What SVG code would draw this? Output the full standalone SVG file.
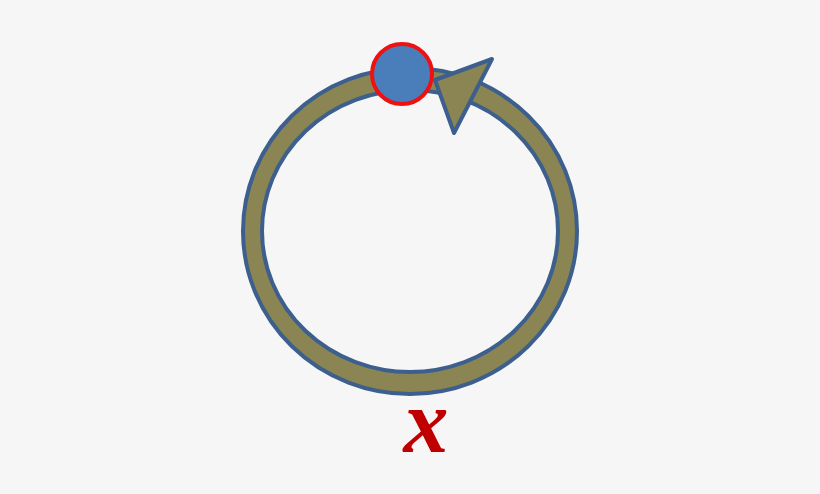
<svg xmlns="http://www.w3.org/2000/svg" width="820" height="494" viewBox="0 0 820 494">
<style>
.band{fill:#8B8553;stroke:#3C5F8E;stroke-width:4;stroke-linejoin:round}
</style>
<rect width="820" height="494" fill="#F6F6F6"/>
<g id="ring">
<path class="band" fill-rule="evenodd" d="M243,231 a167,163 0 1,0 334,0 a167,163 0 1,0 -334,0 Z M262,231 a148,141 0 1,0 296,0 a148,141 0 1,0 -296,0 Z"/>
</g>
<g id="arrowhead">
<polygon class="band" points="492,59 435,80 454,133"/>
</g>
<g id="point">
<circle cx="402" cy="74" r="30" fill="#4A7EBB" stroke="#EE1111" stroke-width="4"/>
</g>
<g id="label">
<text x="426" y="452" text-anchor="middle" font-family="Liberation Serif, serif" font-style="italic" font-weight="bold" font-size="90" fill="#C00000">x</text>
</g>
</svg>
